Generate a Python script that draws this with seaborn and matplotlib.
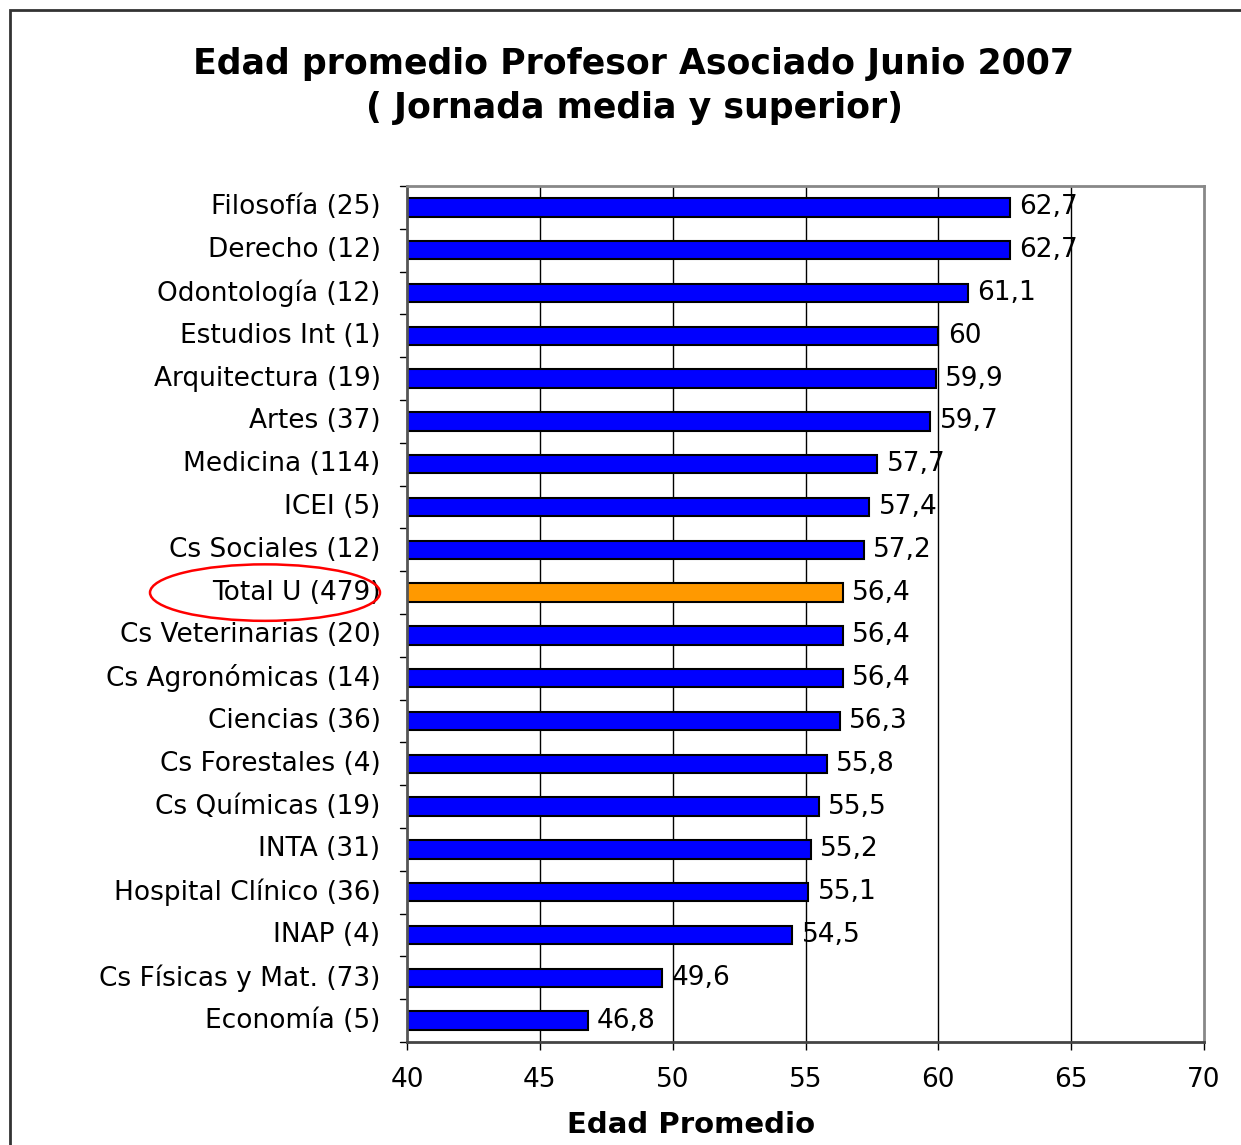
import matplotlib
matplotlib.use("Agg")
import matplotlib.pyplot as plt
import matplotlib.transforms as mtransforms
from matplotlib.patches import Ellipse, Rectangle
import seaborn as sns
import pandas as pd

categories = ["Filosofía (25)", "Derecho (12)", "Odontología (12)", "Estudios Int (1)",
              "Arquitectura (19)", "Artes (37)", "Medicina (114)", "ICEI (5)",
              "Cs Sociales (12)", "Total U (479)", "Cs Veterinarias (20)",
              "Cs Agronómicas (14)", "Ciencias (36)", "Cs Forestales (4)",
              "Cs Químicas (19)", "INTA (31)", "Hospital Clínico (36)", "INAP (4)",
              "Cs Físicas y Mat. (73)", "Economía (5)"]
values = [62.7, 62.7, 61.1, 60.0, 59.9, 59.7, 57.7, 57.4, 57.2, 56.4, 56.4,
          56.4, 56.3, 55.8, 55.5, 55.2, 55.1, 54.5, 49.6, 46.8]
value_labels = ["62,7", "62,7", "61,1", "60", "59,9", "59,7", "57,7", "57,4", "57,2",
                "56,4", "56,4", "56,4", "56,3", "55,8", "55,5", "55,2", "55,1", "54,5",
                "49,6", "46,8"]
highlight = "Total U (479)"
xticks = [40, 45, 50, 55, 60, 65, 70]

sns.set_theme(style="white")
plt.rcParams["font.family"] = ["DejaVu Sans"]
plt.rcParams["text.color"] = "black"
plt.rcParams["axes.labelcolor"] = "black"
plt.rcParams["xtick.color"] = "black"
plt.rcParams["ytick.color"] = "black"

df = pd.DataFrame({"cat": categories, "val": values})
palette = {c: ("#FF9900" if c == highlight else "#0000FF") for c in categories}

fig = plt.figure(figsize=(12.41, 11.45), dpi=100)
ax = fig.add_axes([407/1241, 1-1042/1145, (1204-407)/1241, (1042-186)/1145])

sns.barplot(data=df, x="val", y="cat", hue="cat", palette=palette, legend=False,
            orient="h", width=0.43, edgecolor="black", linewidth=1.5, ax=ax,
            saturation=1)

ax.set_xlim(40, 70)
ax.set_ylim(len(categories)-0.5, -0.5)
ax.set_xticks(xticks)
ax.set_xticklabels([str(t) for t in xticks], fontsize=19)
ax.tick_params(axis="x", pad=12, length=6, width=1, color="black", direction="out", bottom=True)
ax.tick_params(axis="y", labelsize=19, length=0, pad=19)
for t in ax.get_yticklabels():
    t.set_verticalalignment("center")

# category separator ticks
sep_tr = mtransforms.blended_transform_factory(ax.transAxes, ax.transData)
for i in range(len(categories)+1):
    ax.plot([-0.009, 0], [i-0.5, i-0.5], transform=sep_tr, color="black", lw=1, clip_on=False)

for x in xticks[1:-1]:
    ax.axvline(x, color="black", lw=1, zorder=0)

for s in ["top", "right"]:
    ax.spines[s].set_color("#888888")
    ax.spines[s].set_linewidth(2)
ax.spines["left"].set_color("#555555")
ax.spines["left"].set_linewidth(2)
ax.spines["bottom"].set_color("#444444")
ax.spines["bottom"].set_linewidth(2)

for i, (v, lab) in enumerate(zip(values, value_labels)):
    ax.text(v + 0.35, i, lab, va="center", ha="left", fontsize=19, color="black")

ax.set_xlabel("")
ax.set_ylabel("")
fig.text(691/1241, 1-1125/1145, "Edad Promedio", ha="center", va="center",
         fontsize=21, fontweight="bold")

fig.text(634/1241, 1-64/1145, "Edad promedio Profesor Asociado Junio 2007",
         ha="center", va="center", fontsize=25, fontweight="bold")
fig.text(634/1241, 1-108/1145, "( Jornada media y superior)",
         ha="center", va="center", fontsize=25, fontweight="bold")

# red ellipse around Total U label
idx = categories.index(highlight)
tr = mtransforms.blended_transform_factory(fig.transFigure, ax.transData)
ell = Ellipse((265/1241, idx), 230/1241, 1.32, transform=tr, fill=False,
              edgecolor="red", lw=1.8, clip_on=False)
ax.add_artist(ell)

# figure border
fig.patches.append(Rectangle((10/1241, -0.1), 1.2, 1-10/1145+0.1, transform=fig.transFigure,
                             fill=False, edgecolor="#333333", lw=2))

fig.savefig("out.png", dpi=100)
